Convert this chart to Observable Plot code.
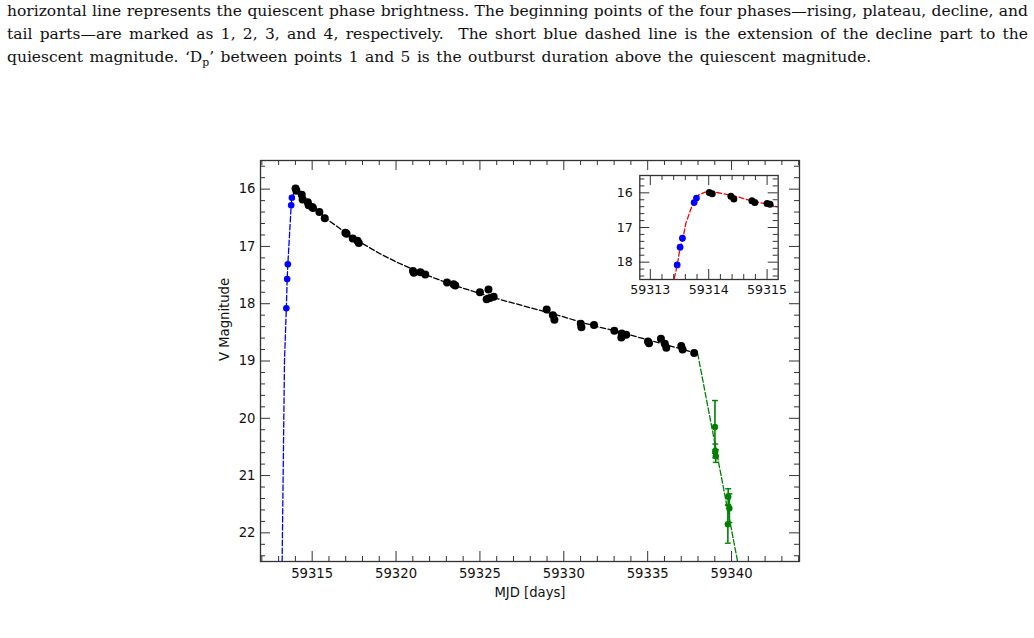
<!DOCTYPE html>
<html>
<head>
<meta charset="utf-8">
<script src="https://cdn.jsdelivr.net/npm/d3@7"></script>
<script src="https://cdn.jsdelivr.net/npm/@observablehq/plot@0.6"></script>
<style>
  body { margin: 0; background: #fff; width: 1034px; height: 638px; overflow: hidden; position: relative; }
  #caption { position: absolute; left: 7px; top: 0; width: 1021px; font-family: "DejaVu Serif", "Liberation Serif", serif; font-size: 15.5px; line-height: 23px; color: #111; }
  #caption .j { text-align: justify; text-align-last: justify; word-spacing: -1.5px; }
  #caption .l { word-spacing: 1.5px; }
  #caption sub { font-size: 70%; line-height: 0; }
  #main { position: absolute; left: 0; top: 0; }
  #inset { position: absolute; left: 600px; top: 165px; }
</style>
</head>
<body>
<div id="caption">
  <div class="j">horizontal line represents the quiescent phase brightness. The beginning points of the four phases—rising, plateau, decline, and</div>
  <div class="j">tail parts—are marked as 1, 2, 3, and 4, respectively.&nbsp; The short blue dashed line is the extension of the decline part to the</div>
  <div class="l">quiescent magnitude. ‘D<sub>p</sub>’ between points 1 and 5 is the outburst duration above the quiescent magnitude.</div>
</div>
<div id="main"></div>
<div id="inset"></div>
<script>
// Rising branch (blue points)
const riseMjd = [59313.46, 59313.51, 59313.55, 59313.75, 59313.79];
const riseMag = [18.08, 17.57, 17.31, 16.28, 16.15];

// Rise guide line, from quiescence up to the peak
const riseLineMjd = [59313.21, 59313.35, 59313.46, 59313.51, 59313.55, 59313.75, 59313.79, 59314.01];
const riseLineMag = [22.5, 19.0, 18.08, 17.57, 17.31, 16.28, 16.15, 15.99];

// Plateau / decline observations (black points)
const decMjd = [59314.01, 59314.06, 59314.38, 59314.43, 59314.74, 59314.79, 59315.00, 59315.05,
  59315.43, 59315.75, 59316.98, 59317.05, 59317.42, 59317.70, 59317.78,
  59321.01, 59321.06, 59321.45, 59321.74, 59323.04, 59323.43, 59323.53,
  59325.00, 59325.40, 59325.51, 59325.60, 59325.82,
  59328.98, 59329.35, 59329.44, 59331.01, 59331.05, 59331.80,
  59333.01, 59333.45, 59333.43, 59333.72, 59335.02, 59335.08, 59335.79,
  59336.02, 59336.11, 59337.00, 59337.08, 59337.77];
const decMag = [15.99, 16.03, 16.10, 16.18, 16.23, 16.28, 16.31, 16.33,
  16.40, 16.51, 16.76, 16.78, 16.86, 16.90, 16.94,
  17.43, 17.46, 17.45, 17.49, 17.63, 17.66, 17.68,
  17.80, 17.92, 17.75, 17.90, 17.88,
  18.10, 18.20, 18.28, 18.35, 18.41, 18.37,
  18.47, 18.52, 18.59, 18.54, 18.66, 18.69, 18.61,
  18.70, 18.77, 18.74, 18.80, 18.86];

// Fitted decline curve (black dashed)
const decFitMjd = [59314.0, 59314.5, 59315.0, 59315.5, 59316.0, 59317.0, 59318.0, 59319.0, 59320.0,
  59321.0, 59322.0, 59323.0, 59324.0, 59325.0, 59326.0, 59327.0, 59328.0, 59329.0, 59330.0,
  59331.0, 59332.0, 59333.0, 59334.0, 59335.0, 59336.0, 59337.0, 59337.98];
const decFitMag = [16.00, 16.16, 16.30, 16.42, 16.55, 16.76, 16.95, 17.12, 17.27,
  17.40, 17.52, 17.63, 17.73, 17.82, 17.91, 17.99, 18.07, 18.15, 18.23,
  18.32, 18.40, 18.47, 18.55, 18.63, 18.71, 18.79, 18.87];

// Tail observations with errors (green)
const tailMjd = [59339.01, 59339.03, 59339.06, 59339.80, 59339.87, 59339.78];
const tailMag = [20.15, 20.57, 20.66, 21.37, 21.57, 21.85];
const tailErr = [0.46, 0.12, 0.11, 0.14, 0.25, 0.33];

// Tail fit (green dashed)
const tailFitMjd = [59337.98, 59340.40];
const tailFitMag = [18.87, 22.56];

// Inset: fit around the peak (red dashed)
const peakFitMjd = [59313.41, 59313.46, 59313.51, 59313.56, 59313.61, 59313.69, 59313.75, 59313.83,
  59313.94, 59314.14, 59314.42, 59314.77, 59315.06, 59315.19];
const peakFitMag = [18.47, 18.09, 17.59, 17.30, 16.87, 16.49, 16.22, 16.06,
  15.98, 15.99, 16.08, 16.25, 16.34, 16.41];

// Axis ticks
const xMajor = [59315, 59320, 59325, 59330, 59335, 59340];
const xTickLabels = ["59315", "59320", "59325", "59330", "59335", "59340"];
const yMajor = [16, 17, 18, 19, 20, 21, 22];
const yTickLabels = ["16", "17", "18", "19", "20", "21", "22"];
const insetXMajor = [59313, 59314, 59315];
const insetXLabels = ["59313", "59314", "59315"];
const insetYMajor = [16, 17, 18];
const insetYLabels = ["16", "17", "18"];

const pts = (xs, ys) => xs.map((x, i) => ({x, y: ys[i]}));
const rise = pts(riseMjd, riseMag);
const riseLine = pts(riseLineMjd, riseLineMag);
const decline = pts(decMjd, decMag);
const declineFit = pts(decFitMjd, decFitMag);
const tail = tailMjd.map((x, i) => ({x, y: tailMag[i], e: tailErr[i]}));
const tailFit = pts(tailFitMjd, tailFitMag);
const peakFit = pts(peakFitMjd, peakFitMag);

const AX = "#333";
const FONT = "DejaVu Sans, sans-serif";
const DASH = "5.5,2.4";

// horizontal cap for error bars
const capSymbol = {
  draw(ctx, size) {
    const w = Math.sqrt(size / Math.PI);
    ctx.moveTo(-w, 0);
    ctx.lineTo(w, 0);
  }
};

// Inward ticks on all four sides of a frame
function frameTicks(xMaj, xMin, yMaj, yMin, w, h, major, minor) {
  const s = {stroke: AX, strokeWidth: 1};
  return [
    Plot.tickX(xMaj, {x: d => d, insetTop: h - major, ...s}),
    Plot.tickX(xMaj, {x: d => d, insetBottom: h - major, ...s}),
    Plot.tickX(xMin, {x: d => d, insetTop: h - minor, ...s}),
    Plot.tickX(xMin, {x: d => d, insetBottom: h - minor, ...s}),
    Plot.tickY(yMaj, {y: d => d, insetRight: w - major, ...s}),
    Plot.tickY(yMaj, {y: d => d, insetLeft: w - major, ...s}),
    Plot.tickY(yMin, {y: d => d, insetRight: w - minor, ...s}),
    Plot.tickY(yMin, {y: d => d, insetLeft: w - minor, ...s})
  ];
}

// ---- main light curve ----
const W = 1034, H = 638, mL = 260, mR = 235, mT = 160, mB = 77;
const pw = W - mL - mR, ph = H - mT - mB;
const xMinor = d3.range(59312, 59345).filter(d => !xMajor.includes(d));
const yMinor = d3.range(78, 113).map(d => +(d * 0.2).toFixed(1)).filter(d => !Number.isInteger(d));

const main = Plot.plot({
  width: W, height: H,
  marginLeft: mL, marginRight: mR, marginTop: mT, marginBottom: mB,
  style: {fontFamily: FONT, fontSize: "13.2px", color: "#111", background: "transparent"},
  x: {domain: [59311.92, 59344.05]},
  y: {domain: [15.5, 22.5], reverse: true},
  marks: [
    Plot.line(riseLine, {x: "x", y: "y", stroke: "#0000ff", strokeWidth: 1.3, strokeDasharray: DASH, clip: true}),
    Plot.line(declineFit, {x: "x", y: "y", stroke: "#000", strokeWidth: 1.3, strokeDasharray: DASH}),
    Plot.line(tailFit, {x: "x", y: "y", stroke: "#008000", strokeWidth: 1.3, strokeDasharray: DASH, clip: true}),
    Plot.dot(rise, {x: "x", y: "y", r: 3.3, fill: "#0000ff"}),
    Plot.dot(decline, {x: "x", y: "y", r: 4, fill: "#000"}),
    Plot.ruleX(tail, {x: "x", y1: d => d.y - d.e, y2: d => d.y + d.e, stroke: "#008000", strokeWidth: 1.6}),
    Plot.dot(tail, {x: "x", y: d => d.y - d.e, symbol: capSymbol, r: 3, stroke: "#008000", strokeWidth: 1.4, fill: "none"}),
    Plot.dot(tail, {x: "x", y: d => d.y + d.e, symbol: capSymbol, r: 3, stroke: "#008000", strokeWidth: 1.4, fill: "none"}),
    Plot.dot(tail, {x: "x", y: "y", r: 3.2, fill: "#008000"}),
    ...frameTicks(xMajor, xMinor, yMajor, yMinor, pw, ph, 10, 5),
    Plot.frame({stroke: AX, strokeWidth: 1.3}),
    Plot.axisX(xMajor, {anchor: "bottom", tickSize: 0, tickPadding: 7, label: null, tickFormat: (d, i) => xTickLabels[i]}),
    Plot.axisY(yMajor, {anchor: "left", tickSize: 0, tickPadding: 5, label: null, tickFormat: (d, i) => yTickLabels[i]}),
    Plot.text(["MJD [days]"], {frameAnchor: "bottom", dy: 35, fontSize: 13.2, fill: "#111"}),
    Plot.text(["V Magnitude"], {frameAnchor: "left", dx: -36, rotate: -90, fontSize: 13.2, fill: "#111"})
  ]
});
document.getElementById("main").append(main);

// ---- inset: zoom on the rise and peak ----
const iW = 200, iH = 135, iL = 39.3, iR = 22.3, iT = 10, iB = 21;
const ipw = iW - iL - iR, iph = iH - iT - iB;
const insetXMinor = d3.range(59312.8 * 5, 59315.2 * 5 + 1).map(d => +(d / 5).toFixed(1)).filter(d => !Number.isInteger(d) && d >= 59312.82 && d <= 59315.19);
const insetYMinor = d3.range(78, 93).map(d => +(d * 0.2).toFixed(1)).filter(d => !Number.isInteger(d));

const inset = Plot.plot({
  width: iW, height: iH,
  marginLeft: iL, marginRight: iR, marginTop: iT, marginBottom: iB,
  style: {fontFamily: FONT, fontSize: "12.6px", color: "#111", background: "transparent"},
  x: {domain: [59312.82, 59315.19]},
  y: {domain: [15.5, 18.5], reverse: true},
  marks: [
    Plot.frame({fill: "#fff"}),
    Plot.line(peakFit, {x: "x", y: "y", stroke: "#ff0000", strokeWidth: 1.3, strokeDasharray: "5,2.6", clip: true}),
    Plot.dot(decline, {x: "x", y: "y", r: 3.5, fill: "#000", clip: true}),
    Plot.dot(rise, {x: "x", y: "y", r: 3.4, fill: "#0000ff", clip: true}),
    ...frameTicks(insetXMajor, insetXMinor, insetYMajor, insetYMinor, ipw, iph, 10, 5),
    Plot.frame({stroke: AX, strokeWidth: 1.3}),
    Plot.axisX(insetXMajor, {anchor: "bottom", tickSize: 0, tickPadding: 6, label: null, tickFormat: (d, i) => insetXLabels[i]}),
    Plot.axisY(insetYMajor, {anchor: "left", tickSize: 0, tickPadding: 7, label: null, tickFormat: (d, i) => insetYLabels[i]})
  ]
});
document.getElementById("inset").append(inset);
</script>
</body>
</html>
